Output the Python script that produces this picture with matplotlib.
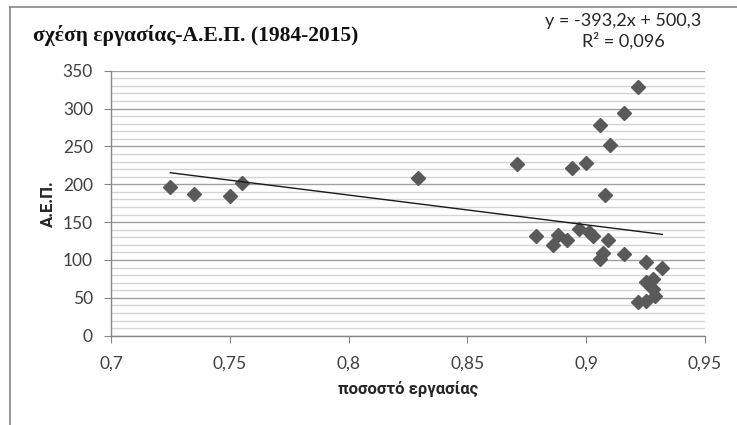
import matplotlib
matplotlib.use("Agg")
import matplotlib.pyplot as plt
from matplotlib.lines import Line2D
from matplotlib.ticker import MultipleLocator, FuncFormatter
import numpy as np

# employment rate vs GDP, 1984-2015
employment = [0.725, 0.735, 0.750, 0.755, 0.829, 0.871, 0.894, 0.900,
              0.906, 0.910, 0.916, 0.922, 0.908, 0.879, 0.888, 0.886,
              0.892, 0.897, 0.901, 0.903, 0.909, 0.907, 0.906, 0.916,
              0.925, 0.932, 0.925, 0.928, 0.928, 0.929, 0.922, 0.925]
gdp = [196, 187, 185, 202, 208, 227, 221, 228,
       278, 252, 294, 328, 186, 132, 133, 120,
       126, 141, 137, 132, 127, 109, 101, 108,
       98, 90, 71, 75, 62, 52, 44, 46]

slope, intercept = -393.2, 500.3
r2 = 0.096

title = "σχέση εργασίας-Α.Ε.Π. (1984-2015)"
xlabel = "ποσοστό εργασίας"
ylabel = "Α.Ε.Π."

plt.rcParams["font.family"] = ["Lato", "Roboto", "DejaVu Sans"]
greek_font = ["Roboto", "DejaVu Sans"]

W, H = 737, 425
fig = plt.figure(figsize=(W / 100, H / 100), dpi=100)
ax = fig.add_axes([111 / W, 1 - 335.7 / H, 594 / W, 265 / H])

ax.set_xlim(0.7, 0.95)
ax.set_ylim(0, 350)
ax.xaxis.set_major_locator(MultipleLocator(0.05))
ax.yaxis.set_major_locator(MultipleLocator(50))
ax.yaxis.set_minor_locator(MultipleLocator(10))

ax.xaxis.set_major_formatter(FuncFormatter(lambda v, p: f"{v:g}".replace(".", ",")))
ax.yaxis.set_major_formatter(FuncFormatter(lambda v, p: f"{v:g}"))

ax.grid(True, which="minor", axis="y", color="#d4d4d4", lw=1.0)
ax.grid(True, which="major", axis="y", color="#a0a0a0", lw=1.0)
ax.set_axisbelow(True)

for side in ("top", "right"):
    ax.spines[side].set_visible(False)
for side in ("left", "bottom"):
    ax.spines[side].set_color("#868686")
    ax.spines[side].set_linewidth(1.0)

ax.tick_params(axis="both", which="major", direction="out", length=5,
               color="#868686", labelsize=12.5, labelcolor="#404040")
ax.tick_params(axis="y", which="minor", length=0)
ax.tick_params(axis="y", pad=8)
ax.tick_params(axis="x", pad=9)

ax.plot(employment, gdp, linestyle="none", marker="D", markersize=7.5,
        color="#595959", zorder=3)

# linear trend line over the data range
xs = np.array([min(employment), max(employment)])
ax.plot(xs, slope * xs + intercept, color="#1a1a1a", lw=1.0, zorder=4)

eq = f"y = {slope:g}x + {intercept:g}\nR² = {r2:.3f}".replace(".", ",")
fig.text(623 / W, 1 - 31 / H, eq, ha="center", va="center",
         fontsize=13, color="#262626", linespacing=1.25)

fig.text(33 / W, 1 - 35 / H, title, ha="left", va="center",
         fontsize=15.5, fontweight="bold", family=["Liberation Serif", "DejaVu Serif"],
         color="#111111")

ax.set_xlabel(xlabel, fontsize=12, fontweight="bold", color="#262626",
              family=greek_font)
ax.set_ylabel(ylabel, fontsize=12, fontweight="bold", color="#262626",
              family=greek_font)
ax.xaxis.set_label_coords(0.5, (335.7 - 389) / 265)
ax.yaxis.set_label_coords((48 - 111) / 594, 0.5)
ax.xaxis.label.set_va("center")
ax.yaxis.label.set_va("center")

# outer chart border (left and top edges)
fig.add_artist(Line2D([10 / W, 10 / W], [0, 1 - 7 / H],
                      transform=fig.transFigure, color="#868686", lw=1.2))
fig.add_artist(Line2D([10 / W, 1], [1 - 7 / H, 1 - 7 / H],
                      transform=fig.transFigure, color="#868686", lw=1.2))

fig.savefig("out.png", dpi=100)
